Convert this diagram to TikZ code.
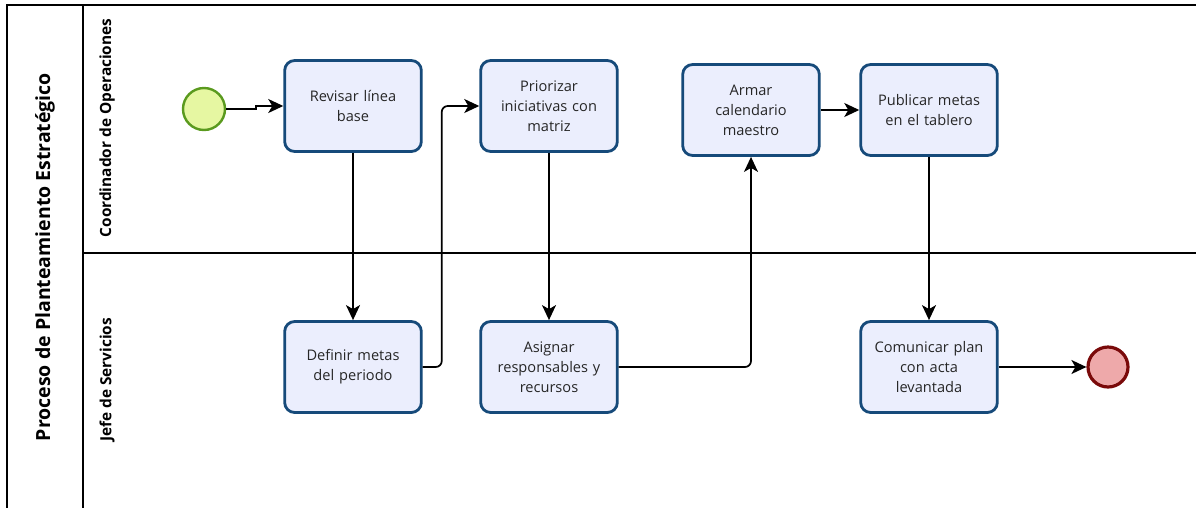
\documentclass[tikz,border=0pt]{standalone}
\usepackage{fontspec}
\setmainfont{Open Sans}
\usetikzlibrary{positioning,arrows.meta}
\definecolor{taskline}{HTML}{164A7A}
\definecolor{taskfill}{HTML}{EBEEFD}
\definecolor{startline}{HTML}{5A9A1E}
\definecolor{startfill}{HTML}{E6F7A2}
\definecolor{endline}{HTML}{7A0A0A}
\definecolor{endfill}{HTML}{EEA9AA}
\tikzset{
  task/.style={draw=taskline, fill=taskfill, line width=2.8pt, rounded corners=10pt,
    minimum width=136pt, minimum height=91pt, align=center, text width=130pt,
    font=\fontsize{14.6}{20}\selectfont, text=black!85},
  startev/.style={circle, draw=startline, fill=startfill, line width=2.4pt,
    minimum size=42pt, inner sep=0pt},
  endev/.style={circle, draw=endline, fill=endfill, line width=3.2pt,
    minimum size=40pt, inner sep=0pt},
  flow/.style={line width=1.7pt, -{Stealth[length=15pt,width=14pt,inset=4pt]}, rounded corners=6pt},
  lanetitle/.style={rotate=90, font=\bfseries\fontsize{15.4}{17}\selectfont},
}

\begin{document}
\begin{tikzpicture}[x=1pt, y=-1pt]
  \useasboundingbox (0,0) rectangle (1196,507);
  % pool and lanes
  \begin{scope}
    \clip (0,0) rectangle (1196,507);
    \draw[line width=1.6pt] (7,520) -- (7,5) -- (1210,5);
    \draw[line width=1.6pt] (83,5) -- (83,520);
    \draw[line width=1.6pt] (83,253) -- (1210,253);
  \end{scope}
  \node[lanetitle, font=\bfseries\fontsize{19.5}{22}\selectfont] (pool) at (45,257) {Proceso de Planteamiento Estratégico};
  \node[lanetitle] (coord) at (107,128) {Coordinador de Operaciones};
  \node[lanetitle] (jefe) at (107,380) {Jefe de Servicios};

  % coordinador
  \node[startev] (inicio) at (204,109) {};
  \node[task] (revisar) at (353,106) {Revisar línea\\base};
  \node[task] (priorizar) at (549,106) {Priorizar\\iniciativas con\\matriz};
  \node[task] (armar) at (751,110) {Armar\\calendario\\maestro};
  \node[task] (publicar) at (929,110) {Publicar metas\\en el tablero};

  % jefe de servicios
  \node[task] (definir) at (353,367) {Definir metas\\del periodo};
  \node[task] (asignar) at (549,367) {Asignar\\responsables y\\recursos};
  \node[task] (comunicar) at (929,367) {Comunicar plan\\con acta\\levantada};
  \node[endev] (fin) at (1108,367) {};

  % flujos
  \draw[flow, sharp corners] (inicio.east) -- ++(30,0) |- (revisar.west);
  \draw[flow] (revisar) -- (definir);
  \draw[flow] (definir.east) -- ++(19,0) |- (priorizar.west);
  \draw[flow] (priorizar) -- (asignar);
  \draw[flow] (asignar.east) -| (armar.south);
  \draw[flow] (armar) -- (publicar);
  \draw[flow] (publicar) -- (comunicar);
  \draw[flow] (comunicar) -- (fin);
\end{tikzpicture}
\end{document}
